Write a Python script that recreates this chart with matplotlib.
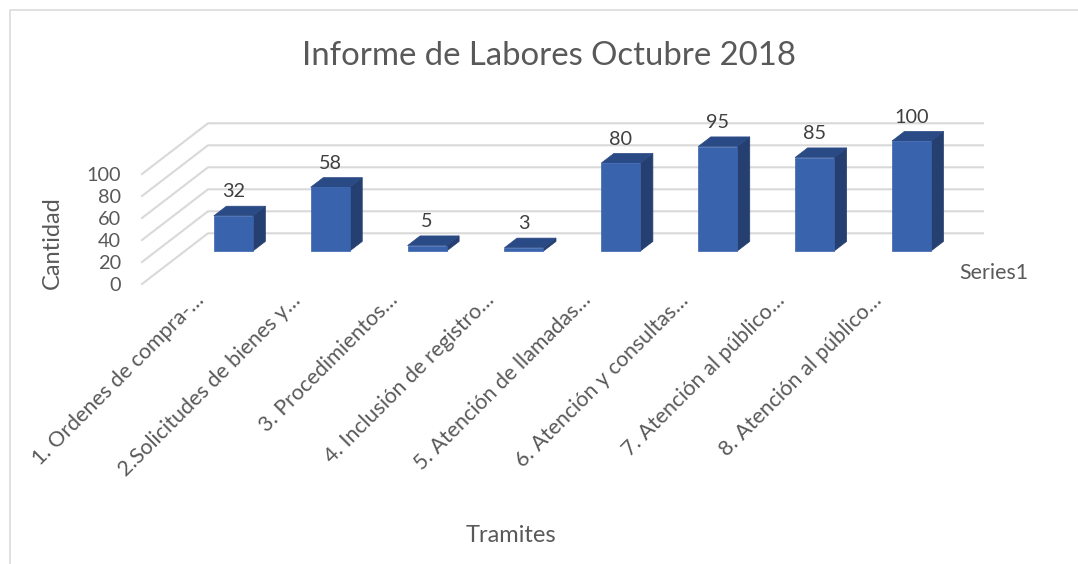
import matplotlib
matplotlib.use("Agg")
import matplotlib.pyplot as plt
from matplotlib.patches import Polygon
from matplotlib.lines import Line2D
from matplotlib.transforms import ScaledTranslation

categories = ["1. Ordenes de compra-…", "2.Solicitudes de bienes y…", "3. Procedimientos…",
              "4. Inclusión de registro…", "5. Atención de llamadas…", "6. Atención y consultas…",
              "7. Atención al público…", "8. Atención al público…"]
values = [32, 58, 5, 3, 80, 95, 85, 100]
y_ticks = [0, 20, 40, 60, 80, 100]

W, H = 1078, 564
TXT = "#595959"
plt.rcParams["font.family"] = ["Lato", "DejaVu Sans"]
fig = plt.figure(figsize=(W / 100, H / 100), dpi=100, facecolor="white")

L, R, T, B = 142, 917, 174, 284
ax = fig.add_axes([L / W, 1 - B / H, (R - L) / W, (B - T) / H])
ax.set_xlim(0, len(categories))
ax.set_ylim(0, 100)
ax.patch.set_visible(False)
for s in ax.spines.values():
    s.set_visible(False)

# oblique projection: depth d in 0..1 moves a point back along the floor
DX = 66 / ((R - L) / len(categories))
DY = 50.7 / ((B - T) / 100)


def proj(x, y, d):
    return (x + d * DX, y + d * DY)


for v in y_ticks:
    p0, p1 = proj(0, v, 0), proj(0, v, 1)
    p2 = proj(len(categories), v, 1)
    ax.plot([p0[0], p1[0], p2[0]], [p0[1], p1[1], p2[1]], color="#D9D9D9", lw=1.5,
            clip_on=False, zorder=1, solid_joinstyle="miter")

BW = 39 / ((R - L) / len(categories))
D0, D1 = 0.65, 0.84
for i, v in enumerate(values):
    xl, xr = i + 0.5 - BW / 2, i + 0.5 + BW / 2
    front = [proj(xl, 0, D0), proj(xr, 0, D0), proj(xr, v, D0), proj(xl, v, D0)]
    side = [proj(xr, 0, D0), proj(xr, 0, D1), proj(xr, v, D1), proj(xr, v, D0)]
    top = [proj(xl, v, D0), proj(xr, v, D0), proj(xr, v, D1), proj(xl, v, D1)]
    ax.add_patch(Polygon(side, fc="#253F70", ec="#253F70", lw=0.5, clip_on=False, zorder=3))
    ax.add_patch(Polygon(top, fc="#2A4A86", ec="#2A4A86", lw=0.5, clip_on=False, zorder=3))
    ax.add_patch(Polygon(front, fc="#3A63AD", ec="#3A63AD", lw=0.5, clip_on=False, zorder=4))
    cx, cy = proj(i + 0.5, v, D0)
    ax.annotate(str(v), (cx, cy), xytext=(0, 24), textcoords="offset pixels", ha="center",
                va="center", fontsize=14.3, color="#404040", annotation_clip=False, zorder=5)

ax.set_yticks(y_ticks)
ax.tick_params(axis="y", length=0, pad=15, labelsize=14.3, labelcolor=TXT)
ax.set_xticks([i + 0.5 for i in range(len(categories))])
ax.set_xticklabels(categories, rotation=45, ha="right", va="top", rotation_mode="anchor")
ax.tick_params(axis="x", length=0, pad=0, labelsize=15.5, labelcolor=TXT)
shift = ScaledTranslation(3 / 100, -6 / 100, fig.dpi_scale_trans)
for lab in ax.get_xticklabels():
    lab.set_transform(lab.get_transform() + shift)

ax.set_ylabel("Cantidad", fontsize=17, color=TXT)
ax.yaxis.set_label_coords(52 / W, 1 - 243 / H, transform=fig.transFigure)
ax.set_xlabel("Tramites", fontsize=17, color=TXT)
ax.xaxis.set_label_coords(511 / W, 1 - 536 / H, transform=fig.transFigure)
ax.xaxis.label.set_va("center")
ax.yaxis.label.set_va("center")

fig.suptitle("Informe de Labores Octubre 2018", x=549.5 / W, y=1 - 56 / H, ha="center", va="center",
             fontsize=23.7, color=TXT)
fig.text(959 / W, 1 - 273 / H, "Series1", fontsize=15.4, color=TXT, ha="left", va="center")

# chart frame: top and left edges only, both run off the picture
fig.add_artist(Line2D([9.5 / W, 9.5 / W, 1], [0, 1 - 10 / H, 1 - 10 / H],
                      transform=fig.transFigure, color="#DDDDDD", lw=1.3))
fig.savefig("out.png", dpi=100)
